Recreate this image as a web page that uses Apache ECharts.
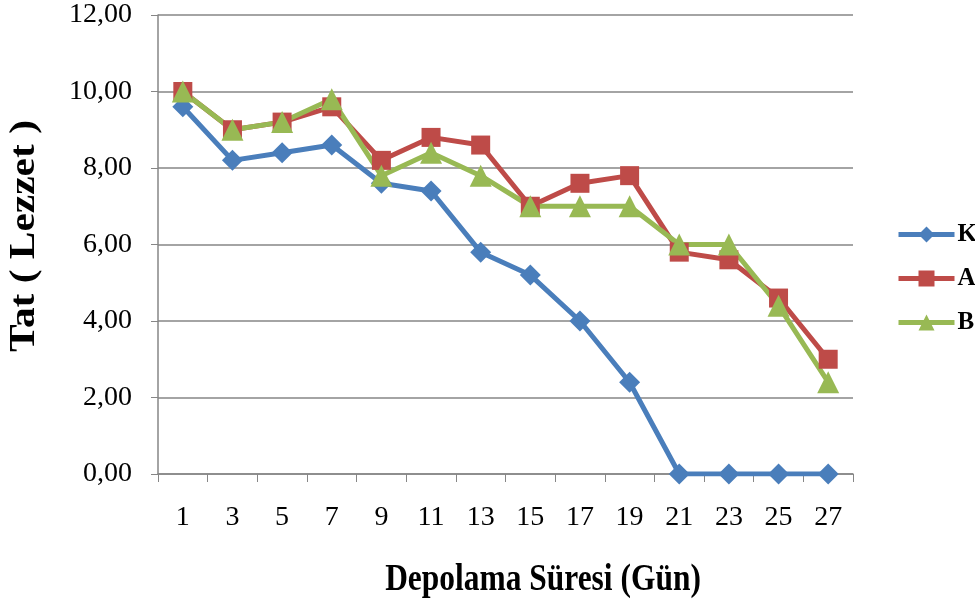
<!DOCTYPE html>
<html><head><meta charset="utf-8">
<script src="https://cdn.jsdelivr.net/npm/echarts@6/dist/echarts.min.js"></script>
<style>html,body{margin:0;padding:0;background:#fff}#c{width:975px;height:599px}</style>
</head><body><div id="c"></div>
<script>
var categories = ['1','3','5','7','9','11','13','15','17','19','21','23','25','27'];
var K = [9.6,8.2,8.4,8.6,7.6,7.4,5.8,5.2,4.0,2.4,0,0,0,0];
var A = [10.0,9.0,9.2,9.6,8.2,8.8,8.6,7.0,7.6,7.8,5.8,5.6,4.6,3.0];
var B = [10.0,9.0,9.2,9.8,7.8,8.4,7.8,7.0,7.0,7.0,6.0,6.0,4.4,2.4];
var yTicks = {min:0, max:12, interval:2};
var xTitle = 'Depolama Süresi (Gün)';
var yTitle = 'Tat ( Lezzet )';

var font = 'Liberation Serif';
var chart = echarts.init(document.getElementById('c'));
function ser(name, data, color, symbol, size){
  return {name:name, type:'line', data:data, symbol:symbol, symbolSize:size,
    lineStyle:{color:color, width:5}, itemStyle:{color:color}, z: 3};
}
chart.setOption({
  animation:false,
  grid:{left:158, right:122, top:15, bottom:125, containLabel:false},
  legend:{orient:'vertical', left:891, top:217, itemGap:19, itemWidth:56, itemHeight:20,
    lineStyle:{width:5},
    textStyle:{fontFamily:font, fontSize:25, fontWeight:'bold', color:'#000', padding:[0,0,0,-2]},
    data:['K','A','B']},
  graphic:[
    {type:'text', x:543, y:580, scaleX:0.85, silent:true,
      style:{text:xTitle, font:'bold 37px "Liberation Serif"', fill:'#000',
        align:'center', verticalAlign:'middle', textAlign:'center', textVerticalAlign:'middle'}},
    {type:'text', x:25, y:236, rotation:Math.PI/2, scaleX:1.15, silent:true,
      style:{text:yTitle, font:'bold 36px "Liberation Serif"', fill:'#000',
        align:'center', verticalAlign:'middle', textAlign:'center', textVerticalAlign:'middle'}}
  ],
  xAxis:{type:'category', data:categories, boundaryGap:true,
    axisLine:{lineStyle:{color:'#868686', width:1.5}},
    axisTick:{show:true, inside:false, length:8, alignWithLabel:false, lineStyle:{color:'#868686'}},
    axisLabel:{fontFamily:font, fontSize:28, color:'#000', margin:30}},
  yAxis:{type:'value', min:yTicks.min, max:yTicks.max, interval:yTicks.interval,
    axisLine:{show:true, lineStyle:{color:'#868686', width:1.5}},
    axisTick:{show:true, length:7, lineStyle:{color:'#868686'}},
    splitLine:{lineStyle:{color:'#868686', width:1.5}},
    axisLabel:{fontFamily:font, fontSize:28, color:'#000', margin:26,
      formatter:function(v){return v.toFixed(2).replace('.',',');}}},
  series:[
    ser('K', K, '#4a7ebb', 'diamond', 21),
    ser('A', A, '#be4b48', 'rect', 19),
    ser('B', B, '#98b954', 'triangle', 22)
  ]
});
</script></body></html>
